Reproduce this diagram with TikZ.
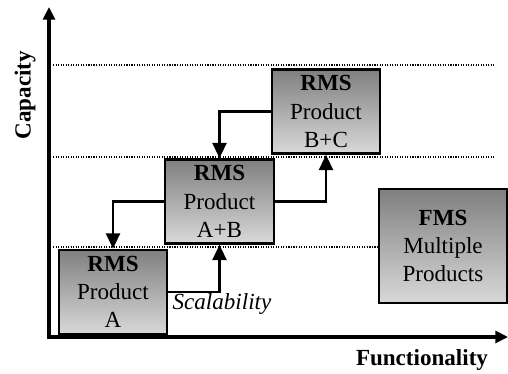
\documentclass[tikz,border=0pt]{standalone}
\usepackage{fontspec}
\setmainfont{Liberation Serif}
\usetikzlibrary{positioning,calc,arrows.meta}

\tikzset{
  sysbox/.style={draw, line width=1.8pt, top color=black!50, bottom color=black!15,
    align=center, inner sep=0pt, minimum width=2.7cm, minimum height=2.1cm},
  level/.style={densely dotted, line width=0.8pt},
  link/.style={line width=1.7pt, -{Triangle[length=11pt,width=10pt]}},
  axis/.style={line width=2.6pt, -{Triangle[length=9pt,width=8.5pt]}},
}

\begin{document}
\begin{tikzpicture}[x=0.025cm, y=-0.025cm, line join=miter,
    font=\fontsize{16.4}{20}\selectfont]
  \useasboundingbox (0,0) rectangle (508,374);

  % axes
  \coordinate (O) at (49,337);
  \coordinate (ytop) at (49,7);
  \coordinate (xend) at (508,337);
  \draw[axis] ($(O)+(0,1.8)$) -- (ytop);
  \draw[axis] ($(O)+(-1.8,0)$) -- (xend);

  % capacity levels
  \draw[level] (53,65) -- (494,65);
  \draw[level] (53,157) -- (494,157);
  \draw[level] (53,247) -- (379,247);

  % systems
  \node[sysbox] (A)  at (113,292)   {\textbf{RMS}\\Product\\A};
  \node[sysbox, minimum width=2.725cm] (AB) at (219.5,201.5) {\textbf{RMS}\\Product\\A+B};
  \node[sysbox] (BC) at (326,111.5) {\textbf{RMS}\\Product\\B+C};
  \node[sysbox, minimum width=3.2cm, minimum height=2.85cm] (FMS) at (443,246)
    {\textbf{FMS}\\Multiple\\Products};

  % reconfiguration paths
  \draw[link] (AB.west) -| (A.north);
  \draw[link] (A.east) -| (AB.south);
  \draw[link] (AB.east) -| (BC.south);
  \draw[link] (BC.west) -| (AB.north);

  % labels
  \node[rotate=90, font=\fontsize{16.4}{20}\selectfont\bfseries] (cap) at (25,95) {Capacity};
  \node[font=\fontsize{16.4}{20}\selectfont\bfseries] (fun) at (422,360) {Functionality};
  \node[font=\fontsize{16.4}{20}\selectfont\itshape] (scal) at (222,304) {Scalability};
\end{tikzpicture}
\end{document}
